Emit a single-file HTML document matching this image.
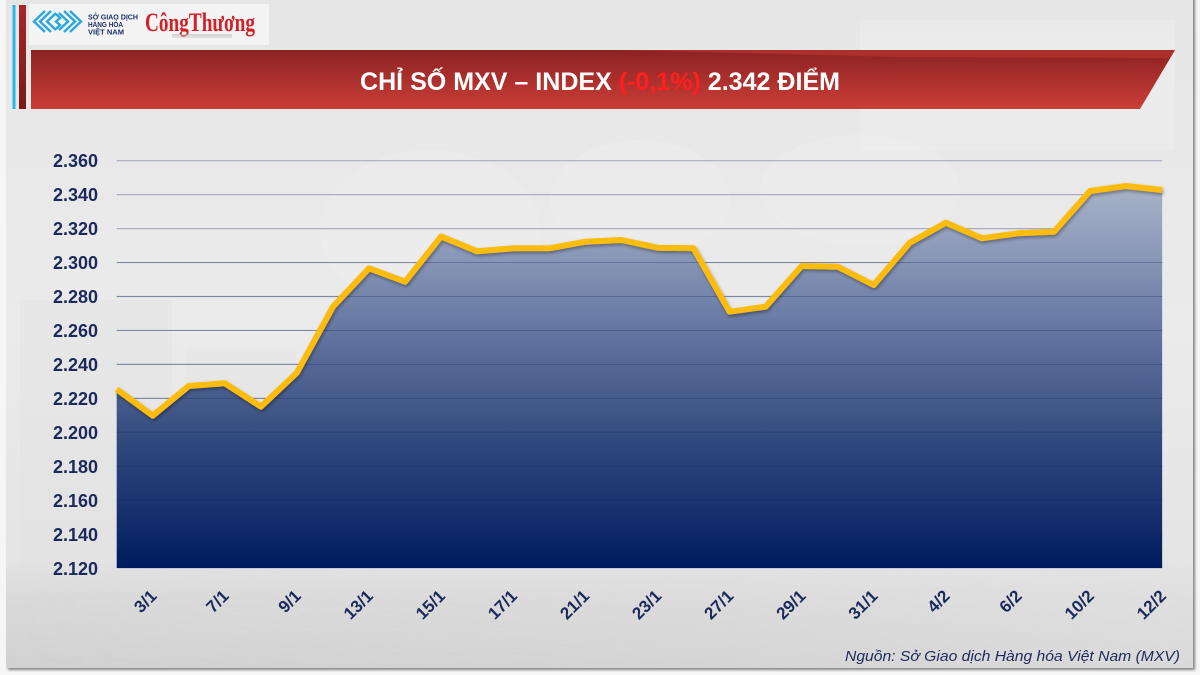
<!DOCTYPE html>
<html>
<head>
<meta charset="utf-8">
<style>
html,body{margin:0;padding:0;background:#f6f6f6;}
body{width:1200px;height:675px;overflow:hidden;}
svg{display:block;}
</style>
</head>
<body>
<svg width="1200" height="675" viewBox="0 0 1200 675" xmlns="http://www.w3.org/2000/svg">
  <defs>
    <linearGradient id="cardBg" x1="0" y1="0" x2="0" y2="1">
      <stop offset="0" stop-color="#e6e6e6"/>
      <stop offset="0.5" stop-color="#ebebeb"/>
      <stop offset="0.85" stop-color="#e4e4e4"/>
      <stop offset="1" stop-color="#dcdcdc"/>
    </linearGradient>
    <linearGradient id="bottomTex" x1="0" y1="0" x2="0" y2="1">
      <stop offset="0" stop-color="#d4d4d4" stop-opacity="0"/>
      <stop offset="0.35" stop-color="#d4d4d4" stop-opacity="0.6"/>
      <stop offset="1" stop-color="#d0d0d0" stop-opacity="0.9"/>
    </linearGradient>
    <linearGradient id="bottomFadeX" x1="0" y1="0" x2="1" y2="0">
      <stop offset="0" stop-color="#fff" stop-opacity="1"/>
      <stop offset="0.6" stop-color="#fff" stop-opacity="0.7"/>
      <stop offset="1" stop-color="#fff" stop-opacity="0.2"/>
    </linearGradient>
    <mask id="bm">
      <rect x="6" y="560" width="1190" height="110" fill="url(#bottomFadeX)"/>
    </mask>
    <linearGradient id="banner" x1="0" y1="0" x2="0" y2="1">
      <stop offset="0" stop-color="#8a2222"/>
      <stop offset="1" stop-color="#cc3d37"/>
    </linearGradient>
    <linearGradient id="redbar" x1="0" y1="0" x2="0" y2="1">
      <stop offset="0" stop-color="#a52828"/>
      <stop offset="1" stop-color="#7a1a1a"/>
    </linearGradient>
    <linearGradient id="areaFill" gradientUnits="userSpaceOnUse" x1="0" y1="186" x2="0" y2="568">
      <stop offset="0" stop-color="#a9b3c8"/>
      <stop offset="0.168" stop-color="#8c9aba"/>
      <stop offset="0.298" stop-color="#7384aa"/>
      <stop offset="0.411" stop-color="#5e709d"/>
      <stop offset="0.605" stop-color="#3e5485"/>
      <stop offset="0.665" stop-color="#30497e"/>
      <stop offset="0.822" stop-color="#1c3572"/>
      <stop offset="1" stop-color="#001c5e"/>
    </linearGradient>
    <filter id="cardShadow" x="-2%" y="-2%" width="104%" height="104%">
      <feDropShadow dx="2" dy="2" stdDeviation="1.2" flood-color="#555" flood-opacity="0.7"/>
    </filter>
    <filter id="lineShadow" x="-5%" y="-20%" width="110%" height="140%">
      <feDropShadow dx="1" dy="2" stdDeviation="1.5" flood-color="#000" flood-opacity="0.35"/>
    </filter>
  </defs>

  <!-- card -->
  <rect x="6" y="-10" width="1187" height="678" fill="url(#cardBg)" filter="url(#cardShadow)"/>
  <!-- faint background decorations -->
  <rect x="6" y="560" width="1187" height="108" fill="url(#bottomTex)" mask="url(#bm)"/>
  <rect x="20" y="300" width="152" height="270" fill="#e0e0e0" opacity="0.4"/>
  <rect x="186" y="348" width="110" height="220" fill="#e0e0e0" opacity="0.3"/>
  <rect x="860" y="20" width="315" height="130" fill="#f0f0f0" opacity="0.45"/>
  <ellipse cx="430" cy="230" rx="110" ry="80" fill="#f2f2f2" opacity="0.35"/>
  <ellipse cx="640" cy="200" rx="90" ry="60" fill="#f2f2f2" opacity="0.3"/>
  <ellipse cx="860" cy="190" rx="100" ry="55" fill="#f1f1f1" opacity="0.3"/>

  <!-- left bars -->
  <rect x="12.5" y="5" width="3" height="104" fill="#29b6e8"/>
  <rect x="19" y="5" width="7" height="104" fill="url(#redbar)"/>

  <!-- logo box -->
  <rect x="29" y="4" width="240" height="41" fill="#f4f4f4"/>
  <g fill="none" stroke="#2aa7e0" stroke-width="2.4" stroke-linejoin="miter">
    <polyline points="45,11 34,21.5 45,32"/>
    <polyline points="51,11 40,21.5 51,32"/>
    <polyline points="56,13 47,21.5 56,30"/>
    <polyline points="70,11 81,21.5 70,32"/>
    <polyline points="64,11 75,21.5 64,32"/>
    <polyline points="59,13 68,21.5 59,30"/>
    <polyline points="56,14 60,18 56,21.5 60,25 56,29"/>
  </g>
  <g font-family="Liberation Sans, sans-serif" font-weight="bold" font-size="7.2" fill="#1d2f6a">
    <text x="88" y="19.5" textLength="50" lengthAdjust="spacingAndGlyphs">SỞ GIAO DỊCH</text>
    <text x="88" y="27" textLength="35" lengthAdjust="spacingAndGlyphs">HÀNG HÓA</text>
    <text x="88" y="34.5" textLength="36" lengthAdjust="spacingAndGlyphs">VIỆT NAM</text>
  </g>
  <text x="145" y="31" font-family="Liberation Serif, serif" font-weight="bold" font-size="26" fill="#d42027" textLength="110" lengthAdjust="spacingAndGlyphs">CôngThương</text>
  <rect x="172" y="34.5" width="60" height="1" fill="#b8b8b8"/>
  <rect x="172" y="36.5" width="60" height="1" fill="#c8c8c8"/>

  <!-- banner -->
  <polygon points="31,50 1175,50 1140,109 31,109" fill="url(#banner)"/>
  <polygon points="620,50 1175,50 1170,58 900,57" fill="#c43a34" opacity="0.55"/>
  <text x="360" y="90" font-family="Liberation Sans, sans-serif" font-weight="bold" font-size="25" fill="#ffffff" textLength="480" lengthAdjust="spacingAndGlyphs">CHỈ SỐ MXV – INDEX <tspan fill="#ff1f1f">(-0,1%)</tspan> 2.342 ĐIỂM</text>

  <!-- gridlines (behind) -->
  <g stroke="#a9adbf" stroke-width="1.2">
    <line x1="116.7" x2="1162.2" y1="160.7" y2="160.7"/>
    <line x1="116.7" x2="1162.2" y1="194.65" y2="194.65"/>
    <line x1="116.7" x2="1162.2" y1="228.6" y2="228.6"/>
    <line x1="116.7" x2="1162.2" y1="262.55" y2="262.55"/>
    <line x1="116.7" x2="1162.2" y1="296.5" y2="296.5"/>
    <line x1="116.7" x2="1162.2" y1="330.45" y2="330.45"/>
    <line x1="116.7" x2="1162.2" y1="364.4" y2="364.4"/>
    <line x1="116.7" x2="1162.2" y1="398.35" y2="398.35"/>
    <line x1="116.7" x2="1162.2" y1="432.3" y2="432.3"/>
    <line x1="116.7" x2="1162.2" y1="466.25" y2="466.25"/>
    <line x1="116.7" x2="1162.2" y1="500.2" y2="500.2"/>
    <line x1="116.7" x2="1162.2" y1="534.15" y2="534.15"/>
  </g>

  <!-- area -->
  <polygon fill="url(#areaFill)" points="116.7,568.1 116.7,389.3 152.75,415.7 188.8,386 224.85,383.3 260.9,406.7 296.95,372.7 333,306.7 369.05,268.3 405.1,281.7 441.15,236.5 477.2,251.3 513.25,248.3 549.3,248.3 585.35,241.7 621.4,240 657.45,247.7 693.5,248.3 729.55,311.7 765.6,306.7 801.65,266 837.7,266.7 873.75,285 909.8,242.7 945.85,222.7 981.9,238.3 1017.95,233.3 1054,231.7 1090.05,191 1126.1,186 1162.15,190 1162.15,568.1"/>

  <!-- gridlines over fill (subtle) -->
  <g stroke="#10245a" stroke-width="1" opacity="0.28">
    <line x1="116.7" x2="1162.2" y1="262.55" y2="262.55"/>
    <line x1="116.7" x2="1162.2" y1="296.5" y2="296.5"/>
    <line x1="116.7" x2="1162.2" y1="330.45" y2="330.45"/>
    <line x1="116.7" x2="1162.2" y1="364.4" y2="364.4"/>
    <line x1="116.7" x2="1162.2" y1="398.35" y2="398.35"/>
    <line x1="116.7" x2="1162.2" y1="432.3" y2="432.3"/>
    <line x1="116.7" x2="1162.2" y1="466.25" y2="466.25"/>
    <line x1="116.7" x2="1162.2" y1="500.2" y2="500.2"/>
    <line x1="116.7" x2="1162.2" y1="534.15" y2="534.15"/>
  </g>

  <!-- line -->
  <polyline fill="none" stroke="#fbbc0e" stroke-width="6" stroke-linejoin="round" stroke-linecap="butt" filter="url(#lineShadow)" points="116.7,389.3 152.75,415.7 188.8,386 224.85,383.3 260.9,406.7 296.95,372.7 333,306.7 369.05,268.3 405.1,281.7 441.15,236.5 477.2,251.3 513.25,248.3 549.3,248.3 585.35,241.7 621.4,240 657.45,247.7 693.5,248.3 729.55,311.7 765.6,306.7 801.65,266 837.7,266.7 873.75,285 909.8,242.7 945.85,222.7 981.9,238.3 1017.95,233.3 1054,231.7 1090.05,191 1126.1,186 1162.15,190"/>

  <!-- y axis labels -->
  <g font-family="Liberation Sans, sans-serif" font-weight="bold" font-size="18" fill="#1b2a5a" text-anchor="end">
    <text x="98" y="167">2.360</text>
    <text x="98" y="201">2.340</text>
    <text x="98" y="235">2.320</text>
    <text x="98" y="269">2.300</text>
    <text x="98" y="303">2.280</text>
    <text x="98" y="337">2.260</text>
    <text x="98" y="371">2.240</text>
    <text x="98" y="405">2.220</text>
    <text x="98" y="439">2.200</text>
    <text x="98" y="473">2.180</text>
    <text x="98" y="507">2.160</text>
    <text x="98" y="541">2.140</text>
    <text x="98" y="575">2.120</text>
  </g>

  <!-- x axis labels -->
  <g font-family="Liberation Sans, sans-serif" font-weight="bold" font-size="17" fill="#1b2a5a" text-anchor="end">
    <text x="157.75" y="597" transform="rotate(-45 157.75 597)">3/1</text>
    <text x="229.85" y="597" transform="rotate(-45 229.85 597)">7/1</text>
    <text x="301.95" y="597" transform="rotate(-45 301.95 597)">9/1</text>
    <text x="374.05" y="597" transform="rotate(-45 374.05 597)">13/1</text>
    <text x="446.15" y="597" transform="rotate(-45 446.15 597)">15/1</text>
    <text x="518.25" y="597" transform="rotate(-45 518.25 597)">17/1</text>
    <text x="590.35" y="597" transform="rotate(-45 590.35 597)">21/1</text>
    <text x="662.45" y="597" transform="rotate(-45 662.45 597)">23/1</text>
    <text x="734.55" y="597" transform="rotate(-45 734.55 597)">27/1</text>
    <text x="806.65" y="597" transform="rotate(-45 806.65 597)">29/1</text>
    <text x="878.75" y="597" transform="rotate(-45 878.75 597)">31/1</text>
    <text x="950.85" y="597" transform="rotate(-45 950.85 597)">4/2</text>
    <text x="1022.95" y="597" transform="rotate(-45 1022.95 597)">6/2</text>
    <text x="1095.05" y="597" transform="rotate(-45 1095.05 597)">10/2</text>
    <text x="1167.15" y="597" transform="rotate(-45 1167.15 597)">12/2</text>
  </g>

  <!-- source -->
  <text x="845" y="661" font-family="Liberation Sans, sans-serif" font-style="italic" font-size="15" fill="#1e2b5c" textLength="335" lengthAdjust="spacingAndGlyphs">Nguồn: Sở Giao dịch Hàng hóa Việt Nam (MXV)</text>
</svg>
</body>
</html>
